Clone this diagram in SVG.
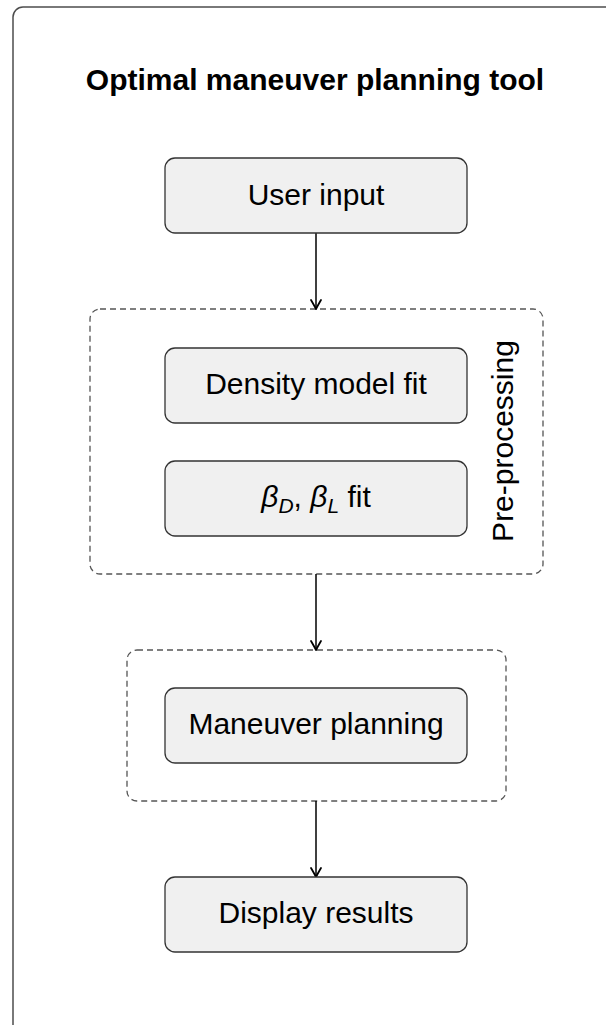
<svg xmlns="http://www.w3.org/2000/svg" width="606" height="1025" viewBox="0 0 606 1025">
  <style>
    .frame { fill: #ffffff; stroke: #4d4d4d; stroke-width: 1.5; }
    .title { font-family: "Liberation Sans", Arial, sans-serif; font-size: 30px; font-weight: bold; fill: #000; text-anchor: middle; }
    .node rect { fill: #f0f0f0; stroke: #333333; stroke-width: 1.3; }
    .label { font-family: "Liberation Sans", Arial, sans-serif; font-size: 30px; fill: #000; text-anchor: middle; }
    .group { fill: none; stroke: #555555; stroke-width: 1.3; stroke-dasharray: 6 4; }
    .edge { fill: none; stroke: #000; stroke-width: 1.5; }
    .math { font-style: italic; }
  </style>
  <defs>
    <!-- open arrowhead pointing along +x, tip at the path end -->
    <marker id="arrow" viewBox="-11 -7 13 14" refX="0" refY="0" markerWidth="13" markerHeight="14" markerUnits="userSpaceOnUse" orient="auto">
      <path d="M -9 -5 Q -3 -1.5 0 0 Q -3 1.5 -9 5" fill="none" stroke="#000" stroke-width="1.8" stroke-linecap="round" stroke-linejoin="round"/>
    </marker>
  </defs>

  <!-- outer frame -->
  <rect class="frame" x="13" y="7" width="604" height="1030" rx="10"/>
  <text class="title" x="315" y="90">Optimal maneuver planning tool</text>

  <!-- dashed groupings -->
  <g id="preprocessing">
    <rect class="group" x="90" y="309" width="453" height="265" rx="10"/>
    <text class="label" transform="translate(513 441) rotate(-90)" x="0" y="0">Pre-processing</text>
  </g>
  <g id="planning-group">
    <rect class="group" x="127" y="650" width="379" height="151" rx="10"/>
  </g>

  <!-- connectors -->
  <g id="connectors">
    <line class="edge" x1="316" y1="233" x2="316" y2="309" marker-end="url(#arrow)"/>
    <line class="edge" x1="316" y1="574" x2="316" y2="650" marker-end="url(#arrow)"/>
    <line class="edge" x1="316" y1="801" x2="316" y2="877" marker-end="url(#arrow)"/>
  </g>

  <g id="user-input" class="node">
    <rect x="165" y="158" width="302" height="75" rx="10"/>
    <text class="label" x="316" y="204.5">User input</text>
  </g>
  <g id="density-fit" class="node">
    <rect x="165" y="348" width="302" height="75" rx="10"/>
    <text class="label" x="316" y="394">Density model fit</text>
  </g>
  <g id="beta-fit" class="node">
    <rect x="165" y="461" width="302" height="75" rx="10"/>
    <text class="label" x="316" y="507"><tspan class="math">β</tspan><tspan class="math" font-size="21" dy="6">D</tspan><tspan dy="-6">, </tspan><tspan class="math">β</tspan><tspan class="math" font-size="21" dy="6">L</tspan><tspan dy="-6"> fit</tspan></text>
  </g>
  <g id="maneuver-planning" class="node">
    <rect x="165" y="688" width="302" height="75" rx="10"/>
    <text class="label" x="316" y="733.5">Maneuver planning</text>
  </g>
  <g id="display-results" class="node">
    <rect x="165" y="877" width="302" height="75" rx="10"/>
    <text class="label" x="316" y="922.5">Display results</text>
  </g>
</svg>
